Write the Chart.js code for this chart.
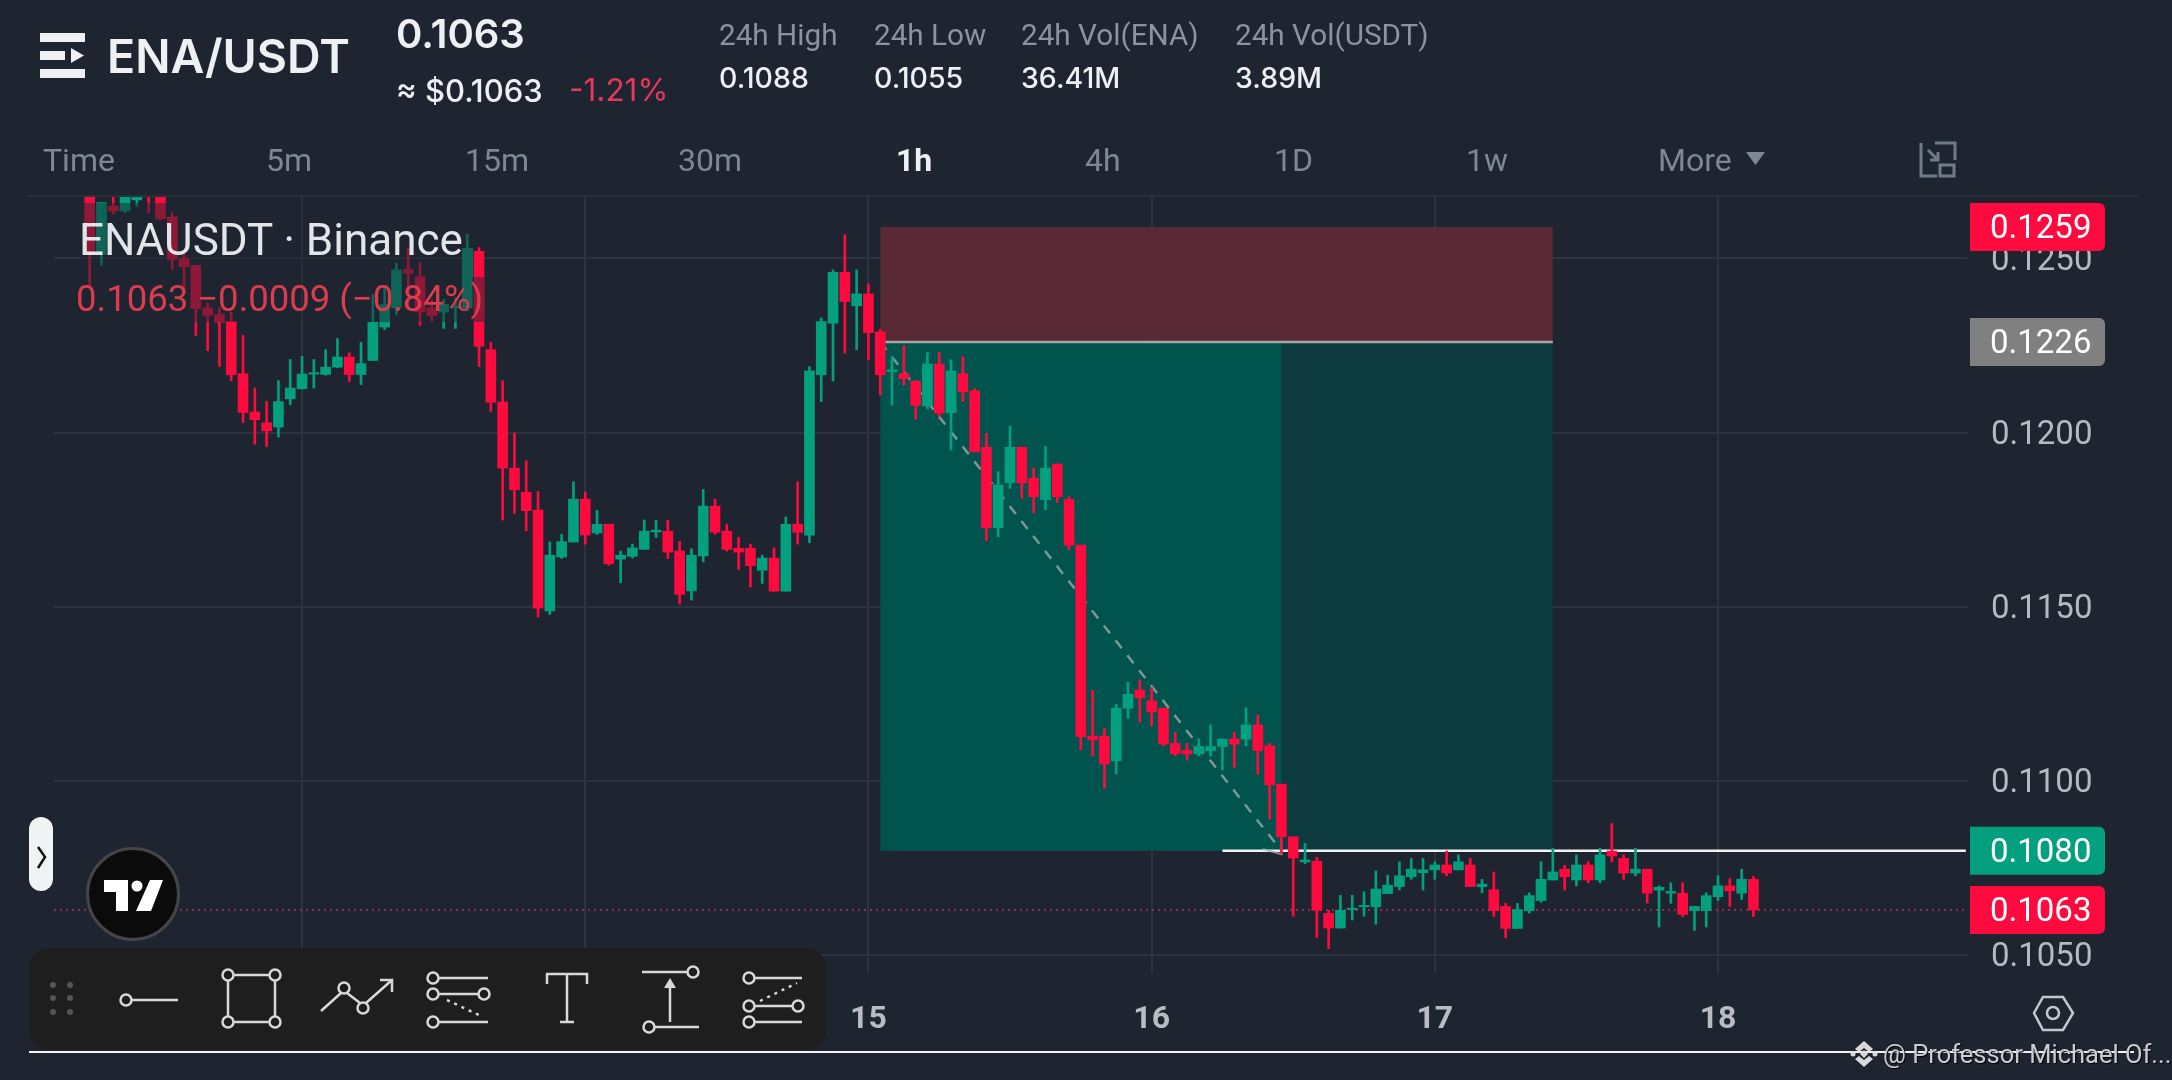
<!DOCTYPE html>
<html>
<head>
<meta charset="utf-8">
<title>ENA/USDT</title>
<script src="https://cdn.jsdelivr.net/npm/chart.js@4/dist/chart.umd.min.js"></script>
<style>
    html, body { margin: 0; padding: 0; background: #1e2530; }
    #page { position: relative; width: 2172px; height: 1080px; overflow: hidden; background: #1e2530; font-family: Roboto, sans-serif; }
    #chartBox { position: absolute; left: 0; top: 0; width: 2172px; height: 1080px; }
    #overlay { position: absolute; left: 0; top: 0; pointer-events: none; }
    .t { position: absolute; white-space: nowrap; transform: translateY(-50%); line-height: 1; }
    .nav { font-size: 32px; color: #7d8796; top: 160px; }
    .head { font-size: 29.700px; color: #8b93a0; top: 35px; }
    .val { font-family: Inter, sans-serif; font-size: 28.500px; color: #eef0f3; top: 78px; font-weight: 500; }
    .shade { position: absolute; background: rgba(30, 37, 48, 0.5); }
    #divider { position: absolute; left: 28px; top: 195px; width: 2110px; height: 2px; background: #28303a; }
    #bottomLine { position: absolute; left: 29px; top: 1051px; width: 2105px; height: 2px; background: #f2f2f2; }
    #toolbar { position: absolute; left: 29px; top: 948px; width: 797px; height: 102px; background: #1e1e1e; border-radius: 20px; }
    #handle { position: absolute; left: 29px; top: 817px; width: 24px; height: 74px; background: #f1f2f4; border-radius: 12px; }
    #logo { position: absolute; left: 86px; top: 847px; width: 88px; height: 88px; background: #0b0b0b; border: 3px solid #454545; border-radius: 50%; }
</style>
</head>
<body>
<div id="page">
    <div id="chartBox"><canvas id="chart"></canvas></div>
    <div id="divider"></div>

    <div class="shade" style="left:80px;top:203px;width:392px;height:74px"></div>
    <div class="shade" style="left:76px;top:277px;width:408px;height:45px"></div>
    <div class="t" style="left:79px;top:240px;font-size:44px;color:#e3e5e9">ENAUSDT · Binance</div>
    <div class="t" style="left:76px;top:299px;font-size:36.500px;color:#dd3c50">0.1063 −0.0009 (−0.84%)</div>

    <div class="t" style="left:107px;top:56px;font-family:Inter;font-size:46.500px;font-weight:600;color:#eef0f3">ENA/USDT</div>
    <div class="t" style="left:396px;top:34px;font-family:Inter;font-size:40px;font-weight:600;color:#eef0f3">0.1063</div>
    <div class="t" style="left:396px;top:90px;font-family:Inter;font-size:31px;font-weight:500;color:#eef0f3">≈ $0.1063</div>
    <div class="t" style="left:569px;top:90px;font-family:Inter;font-size:31.500px;color:#e8365d">-1.21%</div>
    <div class="t head" style="left:719px">24h High</div>
    <div class="t head" style="left:874px">24h Low</div>
    <div class="t head" style="left:1021px">24h Vol(ENA)</div>
    <div class="t head" style="left:1235px">24h Vol(USDT)</div>
    <div class="t val" style="left:719px">0.1088</div>
    <div class="t val" style="left:874px">0.1055</div>
    <div class="t val" style="left:1021px">36.41M</div>
    <div class="t val" style="left:1235px">3.89M</div>

    <div class="t nav" style="left:43px">Time</div>
    <div class="t nav" style="left:266px">5m</div>
    <div class="t nav" style="left:465px">15m</div>
    <div class="t nav" style="left:678px">30m</div>
    <div class="t nav" style="left:896px;color:#eef0f3;font-weight:700">1h</div>
    <div class="t nav" style="left:1085px">4h</div>
    <div class="t nav" style="left:1274px">1D</div>
    <div class="t nav" style="left:1466px">1w</div>
    <div class="t nav" style="left:1658px">More</div>

    <div id="handle"></div>
    <div id="logo"></div>
    <div id="toolbar"></div>
    <div id="bottomLine"></div>

    <svg id="overlay" width="2172" height="1080" fill="none" stroke="#d8d8d8" stroke-width="2.5">
        <!-- menu icon -->
        <g fill="#eef0f3" stroke="none">
            <rect x="40" y="33" width="45" height="9"/><rect x="40" y="69" width="45" height="9"/>
            <rect x="40" y="51" width="25" height="9"/><path d="M71 48 L84 55.5 L71 63 Z"/>
        </g>
        <!-- more arrow + layout icon -->
        <path d="M1746 152 L1765 152 L1755.500 165 Z" fill="#7d8796" stroke="none"/>
        <g stroke="#6f7a8a" stroke-width="3">
            <path d="M1935 143 H1955 V160 M1921 143 V176 H1937"/>
            <rect x="1940" y="165" width="14" height="11"/>
            <path d="M1928 150 L1938 160 M1938 152 V160 H1930"/>
        </g>
        <!-- handle chevron -->
        <path d="M38 847 L45 857 L38 868" stroke="#111" stroke-width="2.500"/>
        <!-- tv logo -->
        <g fill="#fff" stroke="none">
            <path d="M104 880 H128 V911 H116 V892 H104 Z"/>
            <circle cx="137" cy="886" r="5.500"/>
            <path d="M150 880 H163 L151 911 H136 Z"/>
        </g>
        <!-- toolbar grip -->
        <g fill="#555" stroke="none">
            <circle cx="53" cy="985" r="3"/><circle cx="70" cy="985" r="3"/>
            <circle cx="53" cy="998" r="3"/><circle cx="70" cy="998" r="3"/>
            <circle cx="53" cy="1012" r="3"/><circle cx="70" cy="1012" r="3"/>
        </g>
        <!-- tools -->
        <circle cx="126" cy="1000" r="5.500"/><path d="M132 1000 H178"/>
        <path d="M234 975 H269 M234 1022 H269 M228 981 V1016 M275 981 V1016"/>
        <circle cx="228" cy="975" r="5.500"/><circle cx="275" cy="975" r="5.500"/><circle cx="228" cy="1022" r="5.500"/><circle cx="275" cy="1022" r="5.500"/>
        <path d="M321 1011 L341 993 M347 993 L360 1003 M366 1003 L392 980 M380 980 H392 V992"/>
        <circle cx="344" cy="988" r="5.500"/><circle cx="363" cy="1008" r="5.500"/>
        <path d="M439 978 H488 M439 994 H478 M439 1022 H488"/>
        <circle cx="433" cy="978" r="5.500"/><circle cx="433" cy="994" r="5.500"/><circle cx="484" cy="994" r="5.500"/><circle cx="433" cy="1022" r="5.500"/>
        <path d="M447 1000 L483 1017" stroke-dasharray="3 5"/>
        <path d="M547 984 V974 H587 V984 M567 974 V1022 M560 1022 H574"/>
        <path d="M642 972 H687 M655 1027 H699 M670 1022 V985"/>
        <path d="M670 978 L664 988 H676 Z" fill="#d8d8d8" stroke="none"/>
        <circle cx="693" cy="972" r="5.500"/><circle cx="649" cy="1027" r="5.500"/>
        <path d="M755 978 H802 M755 1006 H792 M755 1022 H802"/>
        <circle cx="749" cy="978" r="5.500"/><circle cx="749" cy="1006" r="5.500"/><circle cx="798" cy="1006" r="5.500"/><circle cx="749" cy="1022" r="5.500"/>
        <path d="M760 1001 L797 983" stroke-dasharray="3 5"/>
        <!-- settings hexagon -->
        <g stroke="#c4c7cc" stroke-width="2.500">
            <path d="M2034 1013 L2043 997 H2063 L2073 1013 L2063 1030 H2043 Z"/>
            <circle cx="2053" cy="1013" r="6"/>
        </g>
        <!-- watermark diamond -->
        <g fill="#d8d8d8" stroke="none">
            <path d="M1864 1041 L1873 1049 L1869 1052 L1864 1048 L1859 1052 L1855 1049 Z"/>
            <path d="M1864 1067 L1873 1059 L1869 1056 L1864 1060 L1859 1056 L1855 1059 Z"/>
            <path d="M1864 1050 L1868 1054 L1864 1058 L1860 1054 Z"/>
            <circle cx="1853" cy="1054" r="2.500"/><circle cx="1875" cy="1054" r="2.500"/>
        </g>
    </svg>
    <div class="t" style="left:1883px;top:1055px;font-size:25.500px;color:#c9ccd1;text-shadow:1px 1px 1px #000">@ Professor Michael Of...</div>
</div>

<script>
// ローソク足のデータ（1時間足、画像から読み取り）
const firstHour = -18;

const opens = [
    .12689, .12511, .12650, .12636, .12668, .12689, .12679, .12619, .12499, .12480, .12358, .12339,
    .12319, .12169, .12059, .12028, .12016, .12097, .12126, .12168, .12167, .12188, .12217, .12167,
    .12207, .12303, .12358, .12468, .12447, .12358, .12346, .12358, .12358, .12520, .12238, .12088,
    .11898, .11829, .11778, .11488, .11643, .11686, .11809, .11712, .11737, .11637, .11645, .11665,
    .11715, .11717, .11660, .11546, .11646, .11789, .11717, .11668, .11668, .11605, .11640, .11545,
    .11737, .11706, .12166, .12314, .12460, .12364, .12398, .12289, .12175, .12169, .12148, .12077,
    .12197, .12057, .12169, .12120, .11958, .11727, .11856, .11958, .11869, .11808, .11910, .11808,
    .11677, .11129, .11129, .11058, .11209, .11261, .11230, .11209, .11108, .11088, .11078, .11087,
    .11099, .11121, .11120, .11161, .11101, .10991, .10840, .10768, .10770, .10620, .10578, .10631,
    .10639, .10639, .10677, .10697, .10725, .10737, .10745, .10759, .10745, .10759, .10697, .10688,
    .10640, .10577, .10628, .10657, .10716, .10747, .10716, .10759, .10716, .10799, .10778, .10736,
    .10747, .10687, .10678, .10678, .10628, .10628, .10668, .10699, .10678, .10718
];
const closes = [
    .12517, .12660, .12636, .12679, .12689, .12677, .12614, .12497, .12476, .12356, .12336, .12317,
    .12166, .12058, .12037, .12005, .12089, .12128, .12168, .12172, .12188, .12217, .12167, .12198,
    .12317, .12367, .12467, .12457, .12346, .12336, .12368, .12363, .12529, .12248, .12087, .11898,
    .11836, .11776, .11496, .11648, .11687, .11809, .11706, .11737, .11624, .11648, .11669, .11717,
    .11720, .11657, .11536, .11648, .11789, .11714, .11665, .11657, .11618, .11640, .11545, .11737,
    .11714, .12177, .12319, .12460, .12376, .12398, .12287, .12166, .12180, .12155, .12078, .12197,
    .12056, .12177, .12117, .11945, .11727, .11850, .11958, .11856, .11816, .11898, .11816, .11677,
    .11127, .11118, .11049, .11209, .11249, .11239, .11198, .11106, .11078, .11078, .11099, .11099,
    .11120, .11106, .11161, .11087, .10989, .10840, .10779, .10773, .10629, .10578, .10629, .10635,
    .10643, .10690, .10701, .10728, .10747, .10745, .10759, .10736, .10768, .10697, .10704, .10628,
    .10577, .10631, .10671, .10718, .10739, .10725, .10759, .10716, .10788, .10785, .10736, .10747,
    .10678, .10695, .10683, .10617, .10640, .10671, .10699, .10685, .10718, .10630
];
const highs = [
    .12700, .12660, .12700, .12700, .12700, .12700, .12681, .12631, .12514, .12480, .12372, .12358,
    .12346, .12279, .12128, .12090, .12149, .12210, .12219, .12210, .12238, .12270, .12229, .12259,
    .12396, .12418, .12487, .12530, .12488, .12382, .12382, .12387, .12569, .12531, .12259, .12149,
    .11999, .11919, .11831, .11686, .11708, .11859, .11830, .11777, .11737, .11660, .11680, .11749,
    .11749, .11749, .11688, .11667, .11837, .11809, .11737, .11699, .11680, .11648, .11669, .11758,
    .11859, .12189, .12329, .12467, .12568, .12467, .12427, .12297, .12218, .12249, .12148, .12230,
    .12230, .12209, .12218, .12127, .11998, .11888, .12019, .11958, .11898, .11960, .11910, .11816,
    .11677, .11261, .11151, .11220, .11284, .11290, .11268, .11209, .11140, .11108, .11121, .11161,
    .11121, .11140, .11210, .11190, .11108, .10991, .10840, .10821, .10781, .10629, .10672, .10672,
    .10682, .10742, .10730, .10768, .10778, .10778, .10768, .10799, .10788, .10778, .10718, .10739,
    .10649, .10649, .10679, .10768, .10807, .10758, .10788, .10768, .10807, .10878, .10788, .10807,
    .10747, .10699, .10708, .10708, .10640, .10679, .10728, .10720, .10747, .10726
];
const lows = [
    .12420, .12480, .12627, .12631, .12650, .12631, .12610, .12468, .12401, .12279, .12235, .12190,
    .12149, .12029, .11967, .11960, .11987, .12080, .12125, .12128, .12165, .12186, .12147, .12138,
    .12207, .12296, .12338, .12360, .12308, .12320, .12299, .12299, .12349, .12190, .12061, .11749,
    .11768, .11718, .11471, .11478, .11639, .11686, .11680, .11708, .11619, .11569, .11640, .11665,
    .11699, .11639, .11508, .11519, .11629, .11708, .11660, .11607, .11557, .11567, .11545, .11545,
    .11680, .11684, .12089, .12148, .12228, .12238, .12209, .12108, .12079, .12137, .12039, .12068,
    .12046, .11950, .12089, .11945, .11690, .11701, .11840, .11811, .11770, .11778, .11799, .11663,
    .11089, .11072, .10979, .11020, .11180, .11169, .11158, .11101, .11072, .11060, .11072, .11072,
    .11032, .11039, .11101, .11019, .10890, .10792, .10612, .10763, .10551, .10519, .10578, .10601,
    .10612, .10589, .10677, .10688, .10718, .10687, .10718, .10728, .10745, .10697, .10679, .10611,
    .10550, .10577, .10621, .10652, .10716, .10687, .10699, .10708, .10708, .10768, .10718, .10728,
    .10650, .10581, .10649, .10611, .10571, .10581, .10657, .10640, .10660, .10611
];

// 軸
const priceTicks = [0.105, 0.110, 0.115, 0.120, 0.125];
const dayTicks = [0, 24, 48, 72, 96, 120];
const dayLabels = ['13', '14', '15', '16', '17', '18'];

// ポジションツール
const stopPrice = 0.1259;
const entryPrice = 0.1226;
const targetPrice = 0.1080;
const lastPrice = 0.1063;
const zoneHours = [49, 83, 106];
const pathHours = [49, 83];
const targetLineHours = [78, 141];
const arrowHours = [81.4, 83, 83];
const arrowPrices = [0.10805, 0.1079, 0.1083];

// 右側の価格ラベル
const tagPrices = [0.1259, 0.1226, 0.1080, 0.1063];
const tagColors = ['#ff0a3e', '#808080', '#02a07f', '#ff0a3e'];

const upColor = '#02a07f';
const downColor = '#ff0a3e';
const xMin = -21.02;
const xMax = 141.1;

const hours = opens.map((_, i) => firstHour + i);
const candleColors = opens.map((o, i) => (closes[i] >= o ? upColor : downColor));

// 水平線用のデータセットを作る関数
function lineSet(xs, ys, color, width, dash, order) {
    return {
        type: 'line',
        data: xs.map((x, i) => ({ x: x, y: ys[i] })),
        borderColor: color,
        borderWidth: width,
        borderDash: dash,
        pointRadius: 0,
        tension: 0,
        fill: false,
        order: order
    };
}

// 塗りつぶしゾーン
function zoneSet(xs, top, bottom, color, order) {
    return {
        type: 'line',
        data: xs.map(x => ({ x: x, y: top })),
        borderWidth: 0,
        borderColor: 'transparent',
        backgroundColor: color,
        pointRadius: 0,
        fill: { value: bottom },
        order: order
    };
}

// 価格ラベルを描くプラグイン
const priceTagPlugin = {
    id: 'priceTags',
    afterDraw(chart) {
        const ctx = chart.ctx;
        const y = chart.scales.y;
        ctx.save();
        ctx.font = '33px Roboto';
        ctx.textBaseline = 'middle';
        tagPrices.forEach((p, i) => {
            const py = y.getPixelForValue(p);
            ctx.fillStyle = tagColors[i];
            ctx.beginPath();
            ctx.roundRect(1970, py - 24, 135, 48, [0, 6, 6, 0]);
            ctx.fill();
            ctx.fillStyle = '#ffffff';
            ctx.fillText(p.toFixed(4), 1990, py + 3);
        });
        ctx.restore();
    }
};

new Chart(document.getElementById('chart'), {
    type: 'bar',
    plugins: [priceTagPlugin],
    data: {
        datasets: [
            {
                data: hours.map((h, i) => ({ x: h, y: [opens[i], closes[i]] })),
                backgroundColor: candleColors,
                barThickness: 10,
                grouped: false,
                order: 1
            },
            {
                data: hours.map((h, i) => ({ x: h, y: [lows[i], highs[i]] })),
                backgroundColor: candleColors,
                barThickness: 2,
                grouped: false,
                order: 2
            },
            lineSet(pathHours, [entryPrice, targetPrice], 'rgba(165,175,175,0.75)', 2.5, [10, 9], 3),
            lineSet(arrowHours, arrowPrices, 'rgba(165,175,175,0.75)', 2, [], 3),
            lineSet([xMin, xMax], [lastPrice, lastPrice], '#8f2f55', 2, [2, 4], 4),
            lineSet(targetLineHours, [targetPrice, targetPrice], '#f2f2f2', 2.5, [], 5),
            lineSet([zoneHours[0], zoneHours[2]], [entryPrice, entryPrice], '#a8a8a8', 2.5, [], 5),
            zoneSet([zoneHours[0], zoneHours[2]], stopPrice, entryPrice, 'rgba(98,43,55,0.88)', 10),
            zoneSet([zoneHours[0], zoneHours[1]], entryPrice, targetPrice, 'rgba(0,88,80,0.88)', 10),
            zoneSet([zoneHours[0], zoneHours[2]], entryPrice, targetPrice, 'rgba(10,62,64,0.88)', 11)
        ]
    },
    options: {
        responsive: true,
        maintainAspectRatio: false,
        animation: false,
        layout: { padding: { left: 54, top: 195, right: 0, bottom: 0 } },
        plugins: {
            legend: { display: false },
            title: { display: false },
            tooltip: { enabled: false }
        },
        scales: {
            x: {
                type: 'linear',
                min: xMin,
                max: xMax,
                offset: false,
                grid: { offset: false, color: '#2d343f', lineWidth: 2, drawTicks: false },
                border: { display: false },
                afterBuildTicks: axis => { axis.ticks = dayTicks.map(v => ({ value: v })); },
                afterFit: axis => { axis.height = 107; },
                ticks: {
                    autoSkip: false,
                    maxRotation: 0,
                    padding: 28,
                    color: '#b9bdc2',
                    font: { family: 'Roboto', size: 32, weight: 'bold' },
                    callback: value => dayLabels[dayTicks.indexOf(value)]
                }
            },
            y: {
                position: 'right',
                min: 0.10449,
                max: 0.12682,
                grid: { color: '#2d343f', lineWidth: 2, drawTicks: false },
                border: { display: false },
                afterBuildTicks: axis => { axis.ticks = priceTicks.map(v => ({ value: v })); },
                afterFit: axis => { axis.width = 205; },
                ticks: {
                    padding: 24,
                    labelOffset: 3,
                    color: '#b5b9c0',
                    font: { family: 'Roboto', size: 33 },
                    callback: value => value.toFixed(4)
                }
            }
        }
    }
});
</script>
</body>
</html>
